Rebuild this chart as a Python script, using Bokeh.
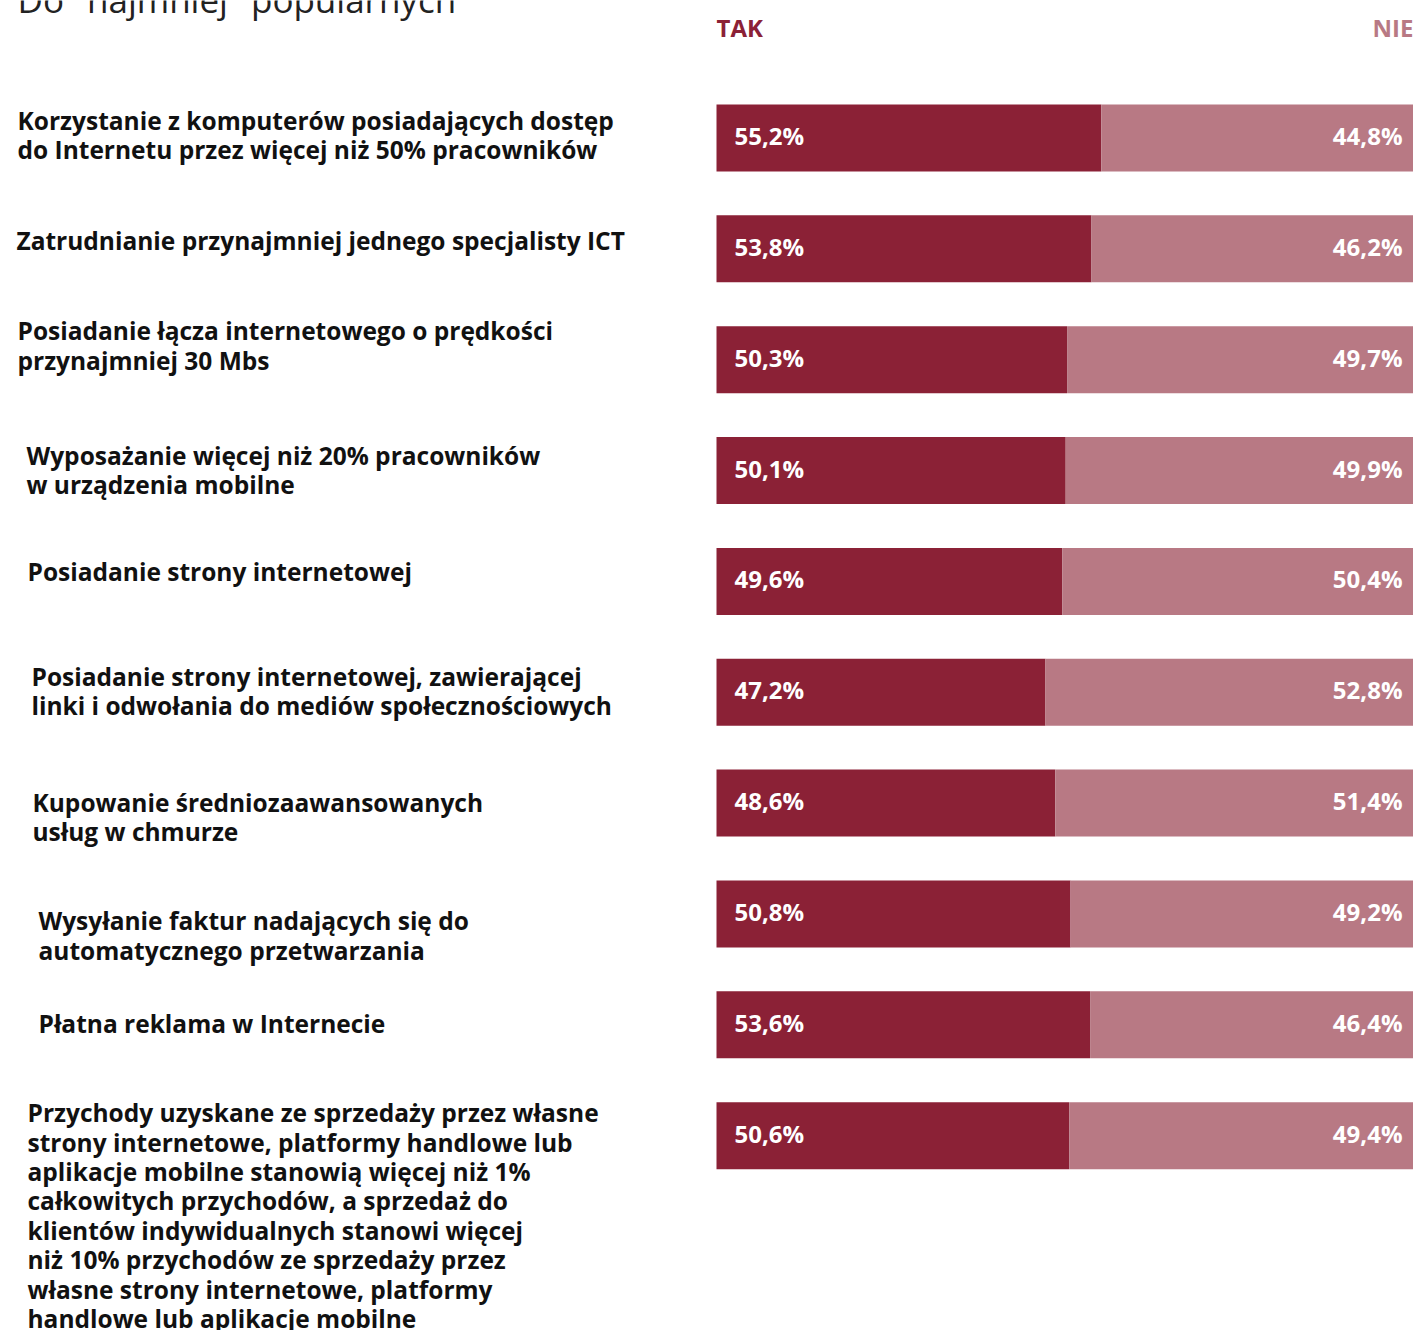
from bokeh.plotting import figure
from bokeh.models import ColumnDataSource, Range1d
from bokeh.core.properties import value
from bokeh.embed import file_html
from bokeh.resources import INLINE

# ---------------- data ----------------
title_text = 'Do "najmniej" popularnych'
header_yes = "TAK"
header_no = "NIE"
categories = [
    "Korzystanie z komputerów posiadających dostęp\ndo Internetu przez więcej niż 50% pracowników",
    "Zatrudnianie przynajmniej jednego specjalisty ICT",
    "Posiadanie łącza internetowego o prędkości\nprzynajmniej 30 Mbs",
    "Wyposażanie więcej niż 20% pracowników\nw urządzenia mobilne",
    "Posiadanie strony internetowej",
    "Posiadanie strony internetowej, zawierającej\nlinki i odwołania do mediów społecznościowych",
    "Kupowanie średniozaawansowanych\nusług w chmurze",
    "Wysyłanie faktur nadających się do\nautomatycznego przetwarzania",
    "Płatna reklama w Internecie",
    "Przychody uzyskane ze sprzedaży przez własne\nstrony internetowe, platformy handlowe lub\naplikacje mobilne stanowią więcej niż 1%\ncałkowitych przychodów, a sprzedaż do\nklientów indywidualnych stanowi więcej\nniż 10% przychodów ze sprzedaży przez\nwłasne strony internetowe, platformy\nhandlowe lub aplikacje mobilne",
]
tak = [55.2, 53.8, 50.3, 50.1, 49.6, 47.2, 48.6, 50.8, 53.6, 50.6]
nie = [44.8, 46.2, 49.7, 49.9, 50.4, 52.8, 51.4, 49.2, 46.4, 49.4]

# ---------------- layout ----------------
W, H = 1413, 1330
BAR_LEFT_PX = 716
PX_PER_PCT = (W - BAR_LEFT_PX) / 100.0
ROW0_PX, ROW_STEP_PX, BAR_H_PX = 137.5, 110.85, 67
label_left_px = [17, 16, 17, 26, 27, 31, 32, 38, 38, 27]
label_first_line_dy = [-18, -8, -29, -15, -10, -16, -1, 7, -1, -23]
LINE_H = 29.4
DARK = "#8B2136"
LIGHT = "#B87984"
FONT = "Open Sans"

def px_to_pct(px):
    return (px - BAR_LEFT_PX) / PX_PER_PCT

p = figure(width=W, height=H, output_backend="svg", toolbar_location=None,
           x_range=Range1d(px_to_pct(0), 100), y_range=Range1d(H, 0),
           min_border=0, min_border_left=0, min_border_right=0,
           min_border_top=0, min_border_bottom=0)
p.axis.visible = False
p.grid.visible = False
p.outline_line_color = None
p.background_fill_color = "white"
p.border_fill_color = "white"

ys = [ROW0_PX + i * ROW_STEP_PX for i in range(len(tak))]
src = ColumnDataSource(dict(
    y=ys, tak=tak, nie=nie, zero=[0] * len(tak), total=[t + n for t, n in zip(tak, nie)],
    tak_lbl=[f"{v:.1f}%".replace(".", ",") for v in tak],
    nie_lbl=[f"{v:.1f}%".replace(".", ",") for v in nie],
))
p.hbar(y="y", left="zero", right="tak", height=BAR_H_PX, source=src,
       fill_color=DARK, line_color=None)
p.hbar(y="y", left="tak", right="total", height=BAR_H_PX, source=src,
       fill_color=LIGHT, line_color=None)

p.text(x="zero", y="y", text="tak_lbl", source=src, x_offset=18, y_offset=-2.5,
       text_font=value(FONT), text_font_style="bold", text_font_size="24px",
       text_color="white", text_baseline="middle", text_align="left")
p.text(x="total", y="y", text="nie_lbl", source=src, x_offset=-11, y_offset=-2.5,
       text_font=value(FONT), text_font_style="bold", text_font_size="24px",
       text_color="white", text_baseline="middle", text_align="right")

# category labels, one line per glyph row
lx, ly, lt = [], [], []
for i, cat in enumerate(categories):
    for k, line in enumerate(cat.split("\n")):
        lx.append(px_to_pct(label_left_px[i]))
        ly.append(ys[i] + label_first_line_dy[i] + k * LINE_H)
        lt.append(line)
lsrc = ColumnDataSource(dict(x=lx, y=ly, t=lt))
p.text(x="x", y="y", text="t", source=lsrc,
       text_font=value(FONT), text_font_style="bold", text_font_size="24.5px",
       text_color="#111111", text_baseline="middle", text_align="left")

# headers
p.text(x=[0], y=[27], text=[header_yes], text_font=value(FONT), text_font_style="bold",
       text_font_size="24px", text_color=DARK, text_baseline="middle", text_align="left")
p.text(x=[100], y=[27], text=[header_no], text_font=value(FONT), text_font_style="bold",
       text_font_size="24px", text_color=LIGHT, text_baseline="middle", text_align="right")

# cut-off title
p.text(x=[px_to_pct(17)], y=[-1], text=[title_text], text_font=value(FONT),
       text_font_size="35px", text_color="#222222", text_baseline="alphabetic",
       text_align="left")

open("out.html", "w").write(file_html(p, INLINE))
